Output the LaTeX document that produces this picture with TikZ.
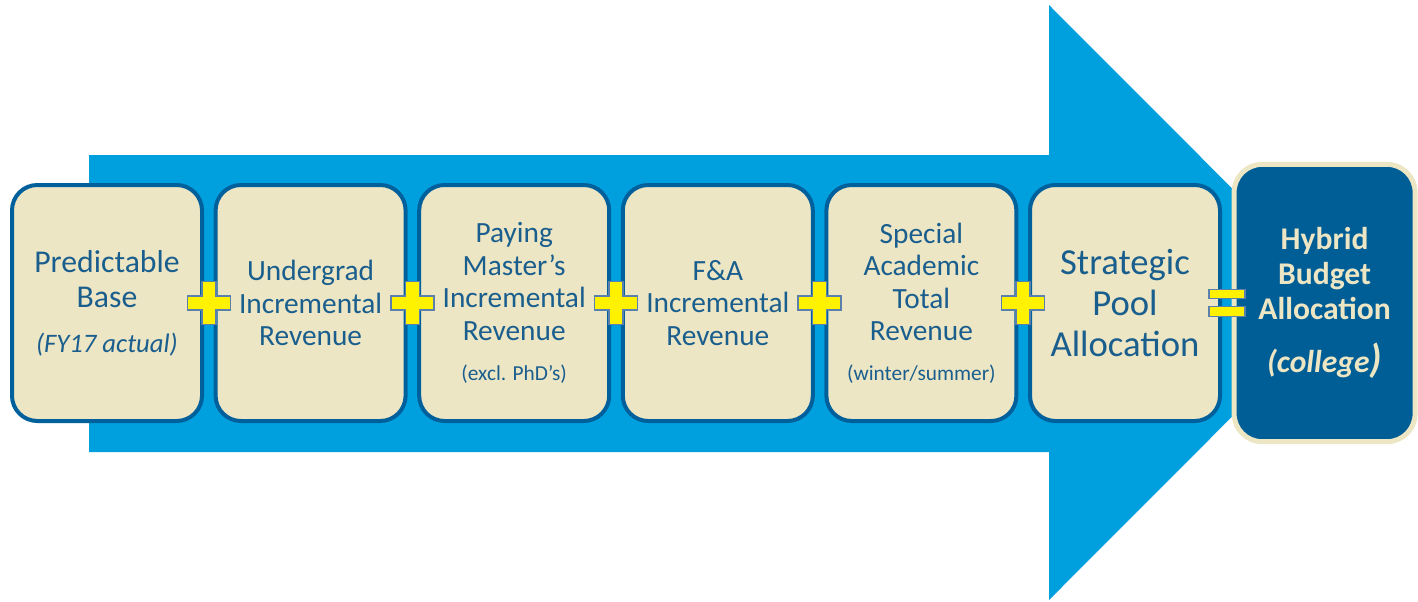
\documentclass[tikz,border=0pt]{standalone}
\usepackage{fontspec}
\setmainfont{Carlito}
\usetikzlibrary{calc,positioning}
\definecolor{navy}{HTML}{005E96}
\definecolor{sky}{HTML}{00A0DE}
\definecolor{cream}{HTML}{EDE6C4}
\definecolor{rim}{HTML}{00609C}
\definecolor{inktext}{HTML}{1A5E8E}
\definecolor{signrim}{HTML}{5B80AC}
\tikzset{termbox/.style={draw=rim,fill=cream,line width=3pt,rounded corners=19pt,minimum width=142.5pt,minimum height=177pt,inner sep=2pt,align=center,text=inktext},totalbox/.style={draw=cream,fill=navy,line width=3.75pt,rounded corners=21pt,minimum width=135.75pt,minimum height=208pt,inner sep=2pt,align=center,text=cream},bigarrow/.style={fill=sky},signshape/.style={draw=signrim,fill=yellow,line width=1.1pt,line join=miter},termtext/.style={font=\fontsize{22}{24.4}\selectfont}}

\begin{document}
\begin{tikzpicture}[x=.75pt,y=-.75pt]
\useasboundingbox (0,0) rectangle (1418,601);
% the big arrow behind the terms
\fill[bigarrow] (89,155) -- (1049,155) -- (1049,5) -- (1346,302.5) -- (1049,600) -- (1049,452) -- (89,452) -- cycle;
\node[termbox,font=\fontsize{23.8}{26.25}\selectfont] (base) at (107,303) {Predictable\\Base\\[7.5pt]{\itshape\fontsize{20}{24}\selectfont(FY17 actual)}};
\node[termbox,termtext,right=7.2pt of base] (ugrad) {Undergrad\\Incremental\\Revenue};
\node[termbox,termtext,right=7.2pt of ugrad] (master) {Paying\\Master’s\\Incremental\\Revenue\\[6pt]{\fontsize{16}{19}\selectfont(excl. PhD’s)}};
\node[termbox,termtext,right=7.2pt of master] (fanda) {F\&A\\Incremental\\Revenue};
\node[termbox,termtext,right=7.2pt of fanda] (special) {Special\\Academic\\Total\\Revenue\\[5pt]{\fontsize{16}{19}\selectfont(winter/summer)}};
\node[termbox,font=\fontsize{27.5}{30.75}\selectfont,right=7.2pt of special] (pool) {Strategic\\Pool\\Allocation};
\node[totalbox,font=\bfseries\fontsize{23.7}{26.25}\selectfont,right=7.2pt of pool] (hybrid) {Hybrid\\Budget\\Allocation\\[13.5pt]{\itshape(college{\fontsize{30}{30}\selectfont)}}};
% plus signs between the terms
\foreach \a/\b in {base/ugrad,ugrad/master,master/fanda,fanda/special,special/pool}{
  \begin{scope}[shift={($(\a.east)!.5!(\b.west)$)}]
    \draw[signshape] (-7,-21.5) -- (7,-21.5) -- (7,-7) -- (21.5,-7) -- (21.5,7) -- (7,7) -- (7,21.5) -- (-7,21.5) -- (-7,7) -- (-21.5,7) -- (-21.5,-7) -- (-7,-7) -- cycle;
  \end{scope}
}
% equals sign
\begin{scope}[shift={($(pool.east)!.5!(hybrid.west)$)}]
  \draw[signshape] (-18,-13.5) rectangle (18,-4.5);
  \draw[signshape] (-18,3.5) rectangle (18,13.5);
\end{scope}
\end{tikzpicture}
\end{document}
